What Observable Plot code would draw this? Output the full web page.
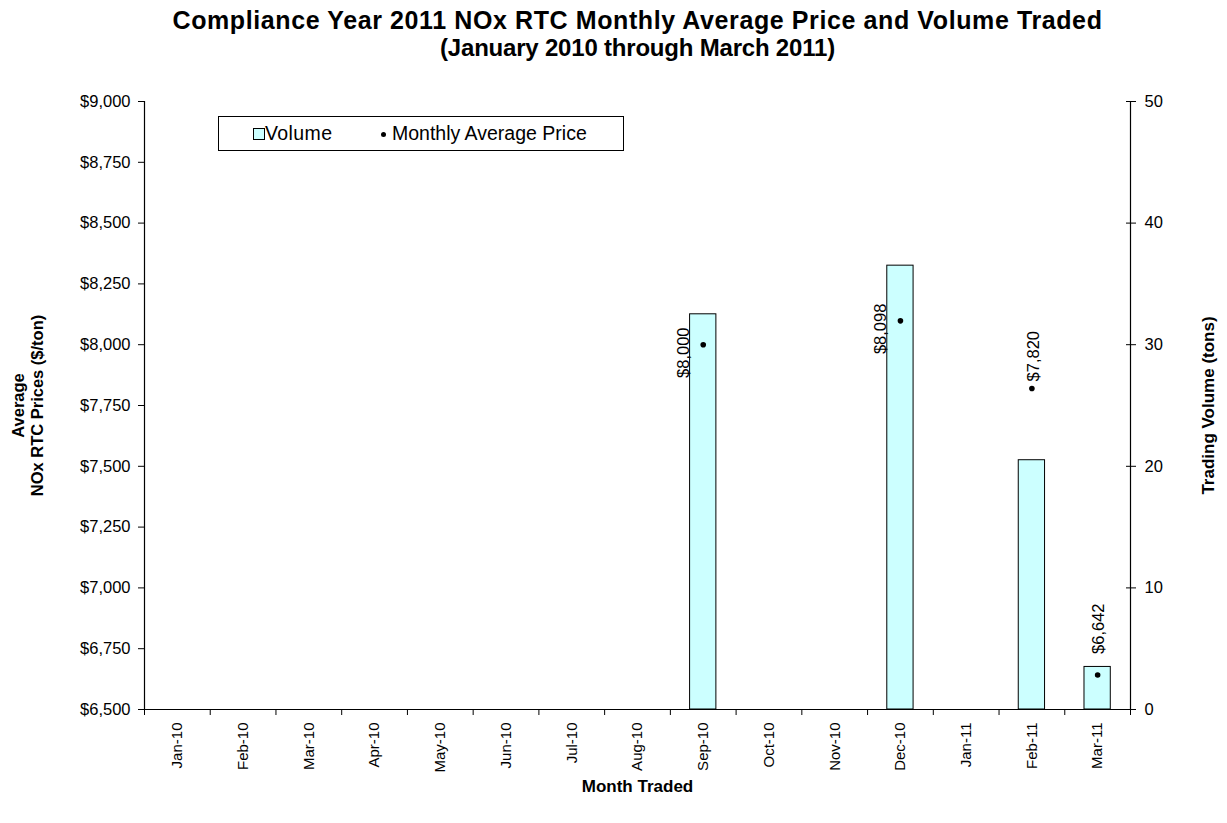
<!DOCTYPE html>
<html><head><meta charset="utf-8">
<script src="https://cdn.jsdelivr.net/npm/d3@7"></script>
<script src="https://cdn.jsdelivr.net/npm/@observablehq/plot@0.6"></script>
<style>
body{margin:0;background:#fff;font-family:Arial,"Liberation Sans",sans-serif;}
#wrap{position:relative;width:1227px;height:823px;}
#title{height:72px;text-align:center;font-weight:bold;font-size:24px;line-height:27px;padding-top:7px;box-sizing:border-box;padding-left:48px;letter-spacing:-0.2px;}
#title .l1{font-size:25px;letter-spacing:0.6px;}
#legend{position:absolute;left:218px;top:116px;width:406px;height:35px;border:1px solid #000;box-sizing:border-box;font-size:19.5px;background:#fff;}
#legend .sw{position:absolute;left:34px;top:11px;width:10px;height:10px;background:#ccffff;border:1px solid #000;}
#legend .t1{position:absolute;left:46px;top:5px;letter-spacing:0.4px;}
#legend .dot{position:absolute;left:162px;top:15px;width:5px;height:5px;border-radius:50%;background:#000;}
#legend .t2{position:absolute;left:173px;top:5px;}
</style></head>
<body>
<div id="wrap">
<div id="title"><span class="l1">Compliance Year 2011 NOx RTC Monthly Average Price and Volume Traded</span><br>(January 2010 through March 2011)</div>
<div id="chart"></div>
<div id="legend"><div class="sw"></div><div class="t1">Volume</div><div class="dot"></div><div class="t2">Monthly Average Price</div></div>
</div>
<script>
const months = ["Jan-10","Feb-10","Mar-10","Apr-10","May-10","Jun-10","Jul-10","Aug-10","Sep-10","Oct-10","Nov-10","Dec-10","Jan-11","Feb-11","Mar-11"];
const volume = [0,0,0,0,0,0,0,0,32.5,0,0,36.5,0,20.5,3.5];
const price = [null,null,null,null,null,null,null,null,8000,null,null,8098,null,7820,6642];
const priceTicks = [6500,6750,7000,7250,7500,7750,8000,8250,8500,8750,9000];
const volumeTicks = [0,10,20,30,40,50];

const pMin = 6500, pMax = 9000, vMax = 50;
const v2y = v => pMin + v * (pMax - pMin) / vMax;
const data = months.map((m, i) => ({m, i, v: volume[i], p: price[i]}));
const bars = data.filter(d => d.v > 0);
const pts = data.filter(d => d.p != null);
const fmt$ = d => "$" + d3.format(",")(d);
const font = "Arial, Liberation Sans, sans-serif";
const n = months.length;

const chart = Plot.plot({
  width: 1227, height: 751,
  marginLeft: 144, marginRight: 97, marginTop: 29, marginBottom: 114,
  style: {fontFamily: font, fontSize: "14px", color: "#000", overflow: "visible"},
  x: {domain: [0, n], axis: null},
  y: {domain: [pMin, pMax], axis: null},
  marks: [
    Plot.rectY(bars, {x1: d => d.i + 0.3, x2: d => d.i + 0.7, y1: pMin, y2: d => v2y(d.v), fill: "#ccffff", stroke: "#000", strokeWidth: 1}),
    Plot.ruleX([0, n], {stroke: "#000", strokeWidth: 1.2}),
    Plot.ruleY([pMin], {stroke: "#000", strokeWidth: 1.2}),
    // tick lines
    Plot.axisY({ticks: priceTicks, tickFormat: () => "", tickSize: 6, label: null}),
    Plot.axisY({anchor: "right", ticks: volumeTicks.map(v2y), tickFormat: () => "", tickSize: 5, label: null}),
    Plot.axisY({anchor: "right", ticks: volumeTicks.map(v2y), tickFormat: () => "", tickSize: -5, label: null}),
    Plot.axisX({ticks: d3.range(0, n + 1), tickFormat: () => "", tickSize: 6, label: null}),
    // tick labels
    Plot.text(priceTicks, {x: 0, y: d => d, text: fmt$, textAnchor: "end", dx: -14, fontSize: 16.5}),
    Plot.text(volumeTicks, {x: n, y: v2y, text: d => String(d), textAnchor: "start", dx: 14, fontSize: 16.5}),
    Plot.text(data, {x: d => d.i + 0.5, y: pMin, text: "m", rotate: -90, textAnchor: "end", dy: 13, fontSize: 15}),
    // price points and labels
    Plot.dot(pts, {x: d => d.i + 0.5, y: "p", r: 2.8, fill: "#000", stroke: null}),
    Plot.text(pts.filter(d => d.m === "Sep-10" || d.m === "Dec-10"), {x: d => d.i + 0.5, y: "p", text: d => fmt$(d.p), rotate: -90, dx: -20, dy: 8, fontSize: 16.5}),
    Plot.text(pts.filter(d => d.m === "Feb-11"), {x: d => d.i + 0.5, y: "p", text: d => fmt$(d.p), rotate: -90, textAnchor: "start", dx: 2, dy: -7, fontSize: 16.5}),
    Plot.text(pts.filter(d => d.m === "Mar-11"), {x: d => d.i + 0.5, y: "p", text: d => fmt$(d.p), rotate: -90, textAnchor: "start", dx: 1, dy: -21, fontSize: 16.5}),
    // axis titles
    Plot.text(["Month Traded"], {frameAnchor: "bottom", dy: 82, fontWeight: "bold", fontSize: 17}),
    Plot.text(["Average\nNOx RTC Prices ($/ton)"], {frameAnchor: "left", textAnchor: "middle", dx: -117, rotate: -90, fontWeight: "bold", fontSize: 16.5, lineHeight: 1.15}),
    Plot.text(["Trading Volume (tons)"], {frameAnchor: "right", textAnchor: "middle", dx: 78, rotate: -90, fontWeight: "bold", fontSize: 17})
  ]
});
document.getElementById("chart").appendChild(chart);
</script>
</body></html>
